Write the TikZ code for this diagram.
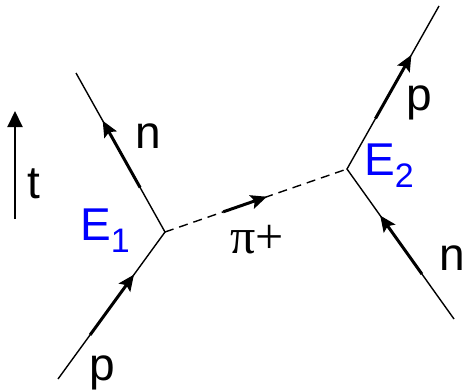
\documentclass[tikz,border=0pt]{standalone}
\usepackage{fontspec}
\setmainfont{Liberation Sans}
\newfontfamily\serifgr{Liberation Serif}
\usepackage{xcolor}
\usetikzlibrary{arrows.meta,calc}

\newcommand{\subidx}[1]{\raisebox{-12pt}{\fontsize{34}{34}\selectfont #1}}

\begin{document}
\begin{tikzpicture}[x=1pt, y=-1pt,
  line/.style={line width=1.4pt},
  pion/.style={line width=1.4pt, dash pattern=on 9pt off 6pt},
  mom/.style={line width=3pt, -{Stealth[length=16pt,width=14pt,inset=3pt]}},
  tarr/.style={line width=2pt, -{Triangle[length=16pt,width=15pt]}},
  lab/.style={font=\fontsize{46}{46}\selectfont, inner sep=0pt, anchor=base west},
  vtx/.style={lab, text=blue}]
  \useasboundingbox (0,0) rectangle (466,391);
  % vertices and external legs
  \coordinate (E1) at (165,232);
  \coordinate (E2) at (347,169);
  \coordinate (pin) at (58,379);
  \coordinate (nout) at (76,73);
  \coordinate (pout) at (439,6);
  \coordinate (nin) at (454,319);
  \draw[line] (pin) -- (E1) -- (nout);
  \draw[line] (nin) -- (E2) -- (pout);
  \draw[pion] (E1) -- (E2);
  % momentum arrows
  \draw[mom] ($(pin)!0.30!(E1)$) -- ($(pin)!0.71!(E1)$);
  \draw[mom] ($(E1)!0.28!(nout)$) -- ($(E1)!0.70!(nout)$);
  \draw[mom] ($(E1)!0.32!(E2)$) -- ($(E1)!0.56!(E2)$);
  \draw[mom] ($(nin)!0.30!(E2)$) -- ($(nin)!0.69!(E2)$);
  \draw[mom] ($(E2)!0.31!(pout)$) -- ($(E2)!0.70!(pout)$);
  % time axis
  \coordinate (t0) at (15,219);
  \coordinate (t1) at (15,111);
  \draw[tarr] (t0) -- (t1);
  \node[lab] (tl) at (27,198) {t};
  % labels
  \node[lab] (n1) at (135,148) {n};
  \node[lab] (p1) at (89,380) {p};
  \node[lab] (n2) at (439,270) {n};
  \node[lab] (p2) at (406,110) {p};
  \node[vtx] (e1) at (80,240) {E\subidx{1}};
  \node[vtx] (e2) at (364,175) {E\subidx{2}};
  \node[lab, font=\serifgr\fontsize{50}{50}\selectfont] (pi) at (230,253) {π+};
\end{tikzpicture}
\end{document}
